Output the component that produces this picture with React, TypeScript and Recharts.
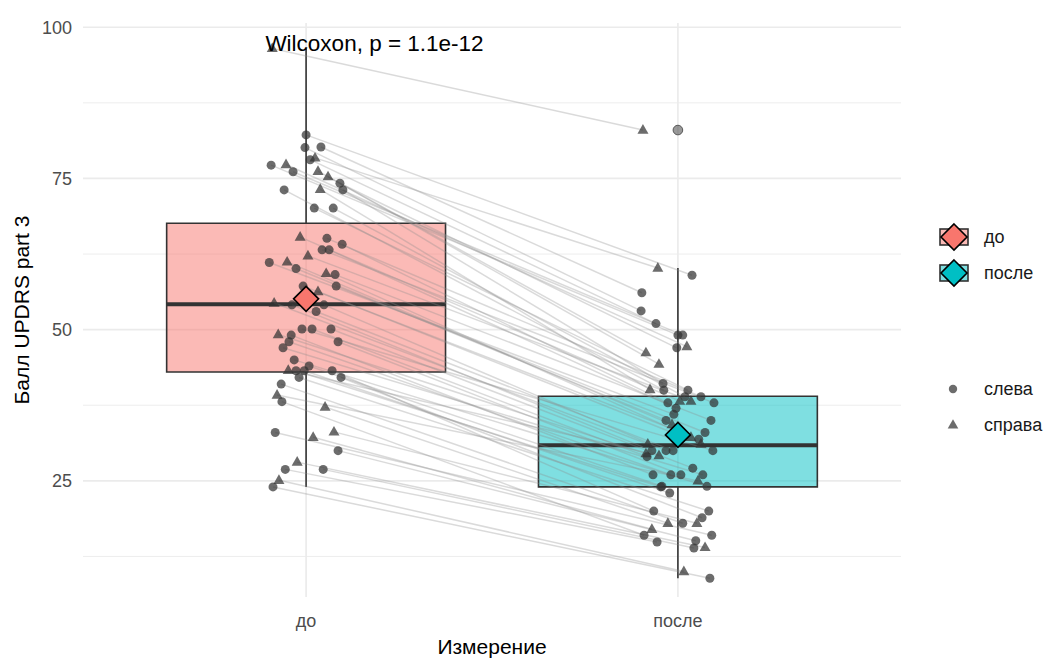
import { ComposedChart, Scatter, XAxis, YAxis, CartesianGrid, ReferenceArea, ReferenceLine } from 'recharts';

const W = 1046;
const H = 659;

const groups = ['до', 'после'];
const sides = ['слева', 'справа'];
const groupFill = ['#F8766D', '#00BFC4'];

// triangles (справа), paired by subject
const triBefore = [96.5, 78.4, 77.3, 76.2, 75.3, 73.2, 65.3, 62.2, 61.2, 59.3, 56.3, 54.4, 49.2, 43.3, 39.2, 37.2, 33.1, 32.2, 28.1, 25.1];
const triBeforeJit = [-0.091, 0.024, -0.054, 0.032, 0.059, 0.038, -0.016, 0.005, -0.051, 0.054, 0.032, -0.086, -0.075, -0.048, -0.078, 0.051, 0.075, 0.019, -0.024, -0.073];
const triAfter = [83.0, 60.2, 47.2, 46.2, 44.3, 40.1, 38.2, 38.2, 34.3, 32.2, 31.1, 31.1, 29.5, 29.2, 25.0, 18.0, 18.0, 17.0, 14.0, 10.0];
const triAfterJit = [-0.094, -0.054, 0.024, -0.086, -0.051, -0.075, 0.005, 0.035, -0.016, 0.035, 0.062, -0.081, -0.086, -0.051, 0.054, -0.027, 0.051, -0.07, 0.073, 0.016];

// circles (слева)
const circBefore = [82.2, 80.2, 80.1, 78.1, 77.2, 76.1, 74.2, 73.1, 73.1, 70.1, 70.1, 65.1, 64.1, 63.2, 63.2, 61.1, 60.1, 59.1, 57.2, 57.2, 54.1, 54.1, 53.0, 50.1, 50.1, 50.1, 49.1, 48.0, 48.0, 47.0, 45.0, 44.0, 43.2, 43.2, 43.2, 42.1, 42.1, 41.0, 38.1, 33.0, 30.0, 26.9, 26.9, 24.0];
const circBeforeJit = [0, 0.04, -0.003, 0.011, -0.094, -0.035, 0.091, 0.099, -0.059, 0.022, 0.073, 0.056, 0.097, 0.043, 0.062, -0.099, -0.027, 0.078, 0.081, -0.008, -0.038, 0.048, 0.027, -0.011, 0.016, 0.067, -0.04, -0.046, 0.086, -0.062, -0.032, 0.008, -0.027, -0.005, 0.07, -0.019, 0.094, -0.067, -0.065, -0.083, 0.086, -0.056, 0.046, -0.089];
const circAfter = [59.0, 56.1, 53.1, 51.0, 49.1, 49.1, 47.0, 41.1, 40.0, 40.0, 38.9, 38.9, 37.9, 37.9, 37.0, 36.0, 35.0, 35.0, 33.0, 31.9, 30.0, 30.0, 30.0, 30.0, 29.0, 27.1, 26.0, 26.0, 26.0, 26.0, 24.1, 24.1, 24.0, 23.0, 20.0, 20.0, 18.9, 18.0, 16.0, 16.0, 15.1, 14.9, 13.9, 8.9];
const circAfterJit = [0.038, -0.097, -0.099, -0.059, 0, 0.013, -0.003, -0.04, -0.038, 0.027, 0.019, 0.062, -0.027, 0.097, -0.005, -0.011, -0.032, 0.089, 0.073, 0.056, -0.07, -0.032, -0.013, 0.094, -0.083, 0.04, -0.067, -0.019, 0.008, 0.067, 0.078, -0.043, -0.046, -0.022, -0.065, 0.083, 0.065, 0.013, -0.091, 0.091, 0.048, -0.056, 0.043, 0.086];

// boxplot stats per group
const boxQ1 = [43, 24];
const boxMedian = [54.2, 30.9];
const boxQ3 = [67.6, 39];
const whiskLow = [24, 8.9];
const whiskHigh = [96.5, 60.2];
const groupMean = [55.1, 32.6];
const outliers = [{ x: 2, y: 83 }];

const yTicks = [25, 50, 75, 100];
const yMinor = [12.5, 37.5, 62.5, 87.5];

const pointFill = '#333333';
const pointOpacity = 0.72;

const Circle = (p: any) => <circle cx={p.cx} cy={p.cy} r={4.5} fill={pointFill} fillOpacity={pointOpacity} />;
const Tri = (p: any) => (
  <polygon
    points={`${p.cx},${p.cy - 6} ${p.cx - 5.5},${p.cy + 3.7} ${p.cx + 5.5},${p.cy + 3.7}`}
    fill={pointFill}
    fillOpacity={pointOpacity}
  />
);
const Outlier = (p: any) => (
  <circle cx={p.cx} cy={p.cy} r={4.8} fill="#555" fillOpacity={0.6} stroke="#555" strokeWidth={1} />
);
const Nothing = () => <g />;

function Diamond(p: any) {
  const s = 12.5;
  return (
    <polygon
      points={`${p.cx},${p.cy - s} ${p.cx + s},${p.cy} ${p.cx},${p.cy + s} ${p.cx - s},${p.cy}`}
      fill={groupFill[p.payload.g]}
      stroke="#000"
      strokeWidth={1.6}
    />
  );
}

export default function App() {
  const pairs: { x: number; y: number }[][] = [];
  triBefore.forEach((v, i) => pairs.push([{ x: 1 + triBeforeJit[i], y: v }, { x: 2 + triAfterJit[i], y: triAfter[i] }]));
  circBefore.forEach((v, i) => pairs.push([{ x: 1 + circBeforeJit[i], y: v }, { x: 2 + circAfterJit[i], y: circAfter[i] }]));

  const triPts = [
    ...triBefore.map((v, i) => ({ x: 1 + triBeforeJit[i], y: v })),
    ...triAfter.map((v, i) => ({ x: 2 + triAfterJit[i], y: v })),
  ];
  const circPts = [
    ...circBefore.map((v, i) => ({ x: 1 + circBeforeJit[i], y: v })),
    ...circAfter.map((v, i) => ({ x: 2 + circAfterJit[i], y: v })),
  ];
  const means = groupMean.map((m, g) => ({ x: g + 1, y: m, g }));

  const font = '"Liberation Sans", Arial, sans-serif';

  return (
    <div style={{ position: 'absolute', left: 0, top: 0, width: W, height: H, background: '#fff', fontFamily: font }}>
      <ComposedChart width={W} height={H} margin={{ top: 23, right: 145, bottom: 0, left: 0 }}>
        <CartesianGrid horizontalValues={yMinor} vertical={false} stroke="#ebebeb" strokeWidth={0.9} />
        <CartesianGrid horizontalValues={yTicks} verticalValues={[1, 2]} stroke="#ebebeb" strokeWidth={1.7} />
        <XAxis
          type="number"
          dataKey="x"
          domain={[0.4, 2.6]}
          allowDataOverflow
          ticks={[1, 2]}
          tickFormatter={(v: number) => groups[v - 1]}
          height={62}
          tickLine={false}
          axisLine={false}
          tickSize={0}
          tickMargin={17}
          tick={{ fontSize: 18, fill: '#4d4d4d', fontFamily: font }}
        />
        <YAxis
          type="number"
          dataKey="y"
          domain={[5.8, 100.7]}
          allowDataOverflow
          ticks={yTicks}
          width={83}
          tickLine={false}
          axisLine={false}
          tickSize={0}
          tickMargin={11}
          tick={{ fontSize: 18, fill: '#4d4d4d', fontFamily: font }}
        />
        {groups.map((g, i) => (
          <ReferenceArea
            key={'box' + g}
            x1={i + 1 - 0.375}
            x2={i + 1 + 0.375}
            y1={boxQ1[i]}
            y2={boxQ3[i]}
            fill={groupFill[i]}
            fillOpacity={0.5}
            stroke="#333333"
            strokeWidth={1.6}
            strokeOpacity={1}
          />
        ))}
        {groups.map((g, i) => (
          <ReferenceLine
            key={'wu' + g}
            segment={[{ x: i + 1, y: boxQ3[i] }, { x: i + 1, y: whiskHigh[i] }]}
            stroke="#333333"
            strokeWidth={1.6}
          />
        ))}
        {groups.map((g, i) => (
          <ReferenceLine
            key={'wl' + g}
            segment={[{ x: i + 1, y: whiskLow[i] }, { x: i + 1, y: boxQ1[i] }]}
            stroke="#333333"
            strokeWidth={1.6}
          />
        ))}
        {groups.map((g, i) => (
          <ReferenceLine
            key={'med' + g}
            segment={[{ x: i + 1 - 0.375, y: boxMedian[i] }, { x: i + 1 + 0.375, y: boxMedian[i] }]}
            stroke="#333333"
            strokeWidth={4}
          />
        ))}
        <Scatter data={outliers} shape={Outlier} isAnimationActive={false} />
        {pairs.map((pr, i) => (
          <Scatter
            key={'pair' + i}
            data={pr}
            line={{ stroke: '#8c8c8c', strokeOpacity: 0.32, strokeWidth: 1.5 }}
            shape={Nothing}
            isAnimationActive={false}
          />
        ))}
        <Scatter data={circPts} shape={Circle} isAnimationActive={false} />
        <Scatter data={triPts} shape={Tri} isAnimationActive={false} />
        <Scatter data={means} shape={Diamond} isAnimationActive={false} />
      </ComposedChart>

      <svg width={W} height={H} style={{ position: 'absolute', left: 0, top: 0, pointerEvents: 'none' }} fontFamily={font}>
        <text x={374.5} y={51} textAnchor="middle" fontSize={22.5} fill="#000">
          Wilcoxon, p = 1.1e-12
        </text>
        <text x={492} y={654} textAnchor="middle" fontSize={21} fill="#000">
          Измерение
        </text>
        <text x={0} y={0} transform="translate(29,310) rotate(-90)" textAnchor="middle" fontSize={21} fill="#000">
          Балл UPDRS part 3
        </text>

        {groups.map((g, i) => {
          const cy = 237 + i * 36;
          const s = 13;
          return (
            <g key={'lg' + g}>
              <rect x={940} y={cy - 8} width={28} height={16} fill={groupFill[i]} fillOpacity={0.5} stroke="#333" strokeWidth={1.6} />
              <polygon
                points={`954,${cy - s} ${954 + s},${cy} 954,${cy + s} ${954 - s},${cy}`}
                fill={groupFill[i]}
                stroke="#000"
                strokeWidth={1.6}
              />
              <text x={984} y={cy + 6} fontSize={18} fill="#1a1a1a">
                {g}
              </text>
            </g>
          );
        })}
        {sides.map((s, i) => {
          const cy = 389 + i * 36;
          return (
            <g key={'ls' + s}>
              {i === 0 ? (
                <circle cx={953} cy={cy} r={4.2} fill={pointFill} fillOpacity={pointOpacity} />
              ) : (
                <polygon points={`953,${cy - 5.8} 947.7,${cy + 3.6} 958.3,${cy + 3.6}`} fill={pointFill} fillOpacity={pointOpacity} />
              )}
              <text x={984} y={cy + 6} fontSize={18} fill="#1a1a1a">
                {s}
              </text>
            </g>
          );
        })}
      </svg>
    </div>
  );
}
